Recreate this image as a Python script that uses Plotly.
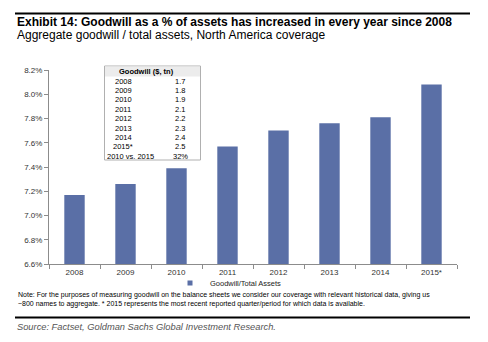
import plotly.graph_objects as go

years = ["2008", "2009", "2010", "2011", "2012", "2013", "2014", "2015*"]
ratio_pct = [7.17, 7.26, 7.39, 7.57, 7.70, 7.76, 7.81, 8.08]
series_name = "Goodwill/Total Assets"

table_header = "Goodwill ($, tn)"
table_years = ["2008", "2009", "2010", "2011", "2012", "2013", "2014", "2015*", "2010 vs. 2015"]
table_values = ["1.7", "1.8", "1.9", "2.1", "2.2", "2.3", "2.4", "2.5", "32%"]

title = "Exhibit 14: Goodwill as a % of assets has increased in every year since 2008"
subtitle = "Aggregate goodwill / total assets, North America coverage"
note = ("Note: For the purposes of measuring goodwill on the balance sheets we consider our coverage with relevant historical data, giving us<br>"
        "~800 names to aggregate. * 2015 represents the most recent reported quarter/period for which data is available.")
source = "Source: Factset, Goldman Sachs Global Investment Research."

W, H = 488, 342
X0, X1, Y0, Y1 = 49, 457, 70, 264


def px(x):
    return (x - X0) / (X1 - X0)


def py(y):
    return (Y1 - y) / (Y1 - Y0)


FONT = "Liberation Sans, Arial, sans-serif"
BAR = "#5a6fa6"

fig = go.Figure()
fig.add_trace(go.Bar(x=years, y=ratio_pct, name=series_name, marker_color=BAR,
                     marker_line_width=0, width=0.4, showlegend=False))
# legend entry with a small square key, like the original
fig.add_trace(go.Scatter(x=[None], y=[None], mode="markers", name=series_name,
                         marker=dict(symbol="square", size=5, color=BAR), showlegend=True))

annotations = []
shapes = []

# title block
shapes.append(dict(type="line", xref="paper", yref="paper", x0=px(15), x1=px(470), y0=py(13.5), y1=py(13.5),
                   line=dict(color="black", width=2)))
annotations.append(dict(text="<b>" + title + "</b>", xref="paper", yref="paper", x=px(15), y=py(22),
                        xanchor="left", yanchor="middle", showarrow=False, font=dict(size=12, color="black", family=FONT)))
annotations.append(dict(text=subtitle, xref="paper", yref="paper", x=px(15), y=py(35.5),
                        xanchor="left", yanchor="middle", showarrow=False, font=dict(size=12, color="black", family=FONT)))

# note and source
annotations.append(dict(text=note, xref="paper", yref="paper", x=px(16), y=py(299.5),
                        xanchor="left", yanchor="middle", align="left", showarrow=False,
                        font=dict(size=7, color="black", family=FONT)))
shapes.append(dict(type="line", xref="paper", yref="paper", x0=px(15), x1=px(470), y0=py(317.5), y1=py(317.5),
                   line=dict(color="black", width=2)))
annotations.append(dict(text="<i>" + source + "</i>", xref="paper", yref="paper", x=px(15), y=py(327),
                        xanchor="left", yanchor="middle", showarrow=False,
                        font=dict(size=9.3, color="#555555", family=FONT)))

# inset table
tx0, tx1, ty0, ty1 = 104.5, 200.5, 66, 160
shapes.append(dict(type="rect", xref="paper", yref="paper", x0=px(tx0), x1=px(tx1), y0=py(ty0), y1=py(ty1),
                   line=dict(color="#b0b0b0", width=1), fillcolor="white", layer="above"))
shapes.append(dict(type="rect", xref="paper", yref="paper", x0=px(tx0 + 0.5), x1=px(tx1 - 0.5), y0=py(ty0 + 0.5), y1=py(76.5),
                   line=dict(width=0), fillcolor="#ececec", layer="above"))
annotations.append(dict(text="<b>" + table_header + "</b>", xref="paper", yref="paper", x=px(146), y=py(71.5),
                        xanchor="center", yanchor="middle", showarrow=False,
                        font=dict(size=7.5, color="black", family=FONT)))
row_y0, row_dy = 81, 9.4
for i, (yr, v) in enumerate(zip(table_years, table_values)):
    yy = row_y0 + i * row_dy
    xc = 123 if i < len(table_years) - 1 else 130
    annotations.append(dict(text=yr, xref="paper", yref="paper", x=px(xc), y=py(yy),
                            xanchor="center", yanchor="middle", showarrow=False,
                            font=dict(size=7.5, color="black", family=FONT)))
    annotations.append(dict(text=v, xref="paper", yref="paper", x=px(180), y=py(yy),
                            xanchor="center", yanchor="middle", showarrow=False,
                            font=dict(size=7.5, color="black", family=FONT)))

fig.update_layout(
    width=W, height=H,
    margin=dict(l=X0, r=W - X1, t=Y0, b=H - Y1),
    paper_bgcolor="white", plot_bgcolor="white",
    font=dict(family=FONT, size=8, color="#333333"),
    bargap=0.6,
    annotations=annotations,
    shapes=shapes,
    showlegend=True,
    legend=dict(orientation="h", x=px(170), xanchor="left", y=py(283), yanchor="middle",
                font=dict(size=7.5, color="#222222", family=FONT), itemwidth=30,
                bgcolor="rgba(0,0,0,0)"),
    xaxis=dict(type="category", showline=True, linecolor="#8c8c8c", linewidth=1,
               ticks="outside", tickson="boundaries", ticklen=4, tickcolor="#8c8c8c",
               showgrid=False, tickfont=dict(size=8, color="#333333")),
    yaxis=dict(range=[6.6, 8.2], dtick=0.2, tick0=6.6, tickformat=".1f", ticksuffix="%",
               showline=True, linecolor="#8c8c8c", linewidth=1, ticks="outside", ticklen=4,
               tickcolor="#8c8c8c", showgrid=False, zeroline=False,
               tickfont=dict(size=8, color="#333333")),
)

fig.write_html("out.html")
